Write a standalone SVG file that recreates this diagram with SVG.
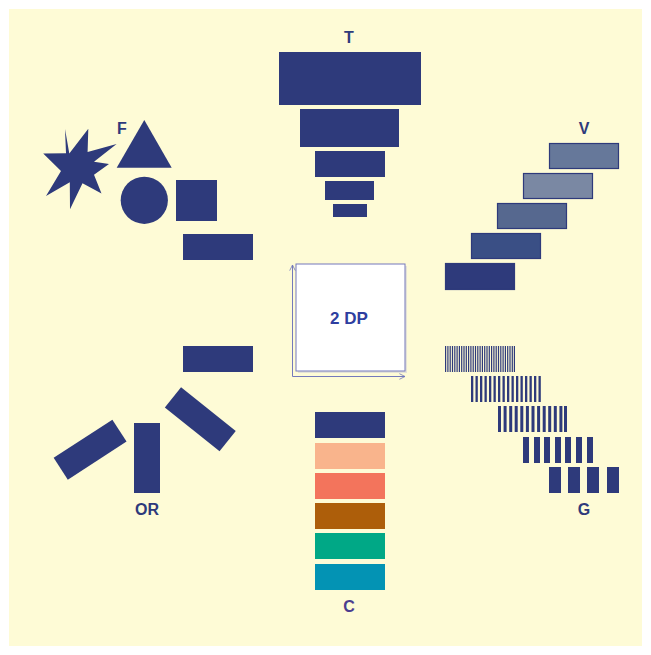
<svg xmlns="http://www.w3.org/2000/svg" width="651" height="655" viewBox="0 0 651 655">
<defs>
<style>
.n{fill:#2e3a7b}
.lbl{font-family:"Liberation Sans",Arial,sans-serif;font-weight:bold;font-size:16px;fill:#2e3a7b;text-anchor:middle}
.v{stroke:#2e3a7b;stroke-width:1.2}
.ax{stroke:#7479bb;stroke-width:1;fill:none}
</style>
<marker id="ah" viewBox="0 0 10 10" refX="9" refY="5" markerWidth="7" markerHeight="7" orient="auto" markerUnits="userSpaceOnUse">
<path d="M1,1 L9,5 L1,9" fill="none" stroke="#7479bb" stroke-width="1.2"/>
</marker>
</defs>
<rect x="0" y="0" width="651" height="655" fill="#ffffff"/>
<rect x="9" y="9" width="633" height="637" fill="#fefbd6"/>

<g id="center">
<rect x="298" y="266" width="109" height="107" fill="#e4e2d8"/>
<rect x="296" y="264" width="109" height="107" fill="#ffffff" stroke="#7479bb" stroke-width="1"/>
<g class="connectors" id="axes">
<line class="ax" x1="292.5" y1="376.5" x2="292.5" y2="265" marker-end="url(#ah)"/>
<line class="ax" x1="292.5" y1="376.5" x2="405" y2="376.5" marker-end="url(#ah)"/>
</g>
<text class="lbl" x="349" y="324" style="fill:#2e3ea0;font-size:17px">2 DP</text>
</g>

<g id="T">
<text class="lbl" x="349" y="43">T</text>
<rect class="n" x="279" y="52" width="142" height="53"/>
<rect class="n" x="300" y="109" width="99" height="38"/>
<rect class="n" x="315" y="151" width="70" height="26"/>
<rect class="n" x="325" y="181" width="49" height="19"/>
<rect class="n" x="333" y="204" width="34" height="13"/>
</g>

<g id="F">
<text class="lbl" x="122" y="134">F</text>
<polygon class="n" points="65,129 69.3,153.5 88.3,128.7 87.6,152.1 116.6,144 94,161.8 109,164 94,174.8 101.5,193.5 82.5,183.2 70,209.3 69.8,182.2 46,196 61,171 43.2,153.5 66,153.3"/>
<polygon class="n" points="144.3,120 171.7,167.7 116.7,167.7"/>
<circle class="n" cx="144.3" cy="200.3" r="23.6"/>
<rect class="n" x="176" y="180" width="41" height="41"/>
<rect class="n" x="183" y="234" width="70" height="26"/>
</g>

<g id="V">
<text class="lbl" x="584" y="134">V</text>
<rect class="v" x="549.5" y="143.5" width="69" height="25" fill="#66789a"/>
<rect class="v" x="523.5" y="173.5" width="69" height="25" fill="#7a88a3"/>
<rect class="v" x="497.5" y="203.5" width="69" height="25" fill="#56688f"/>
<rect class="v" x="471.5" y="233.5" width="69" height="25" fill="#3a4f85"/>
<rect class="v" x="445.5" y="263.5" width="69" height="26" fill="#2e3a7b"/>
</g>

<g id="OR">
<rect class="n" x="183" y="346" width="70" height="26"/>
<rect class="n" x="134" y="423" width="26" height="70"/>
<rect class="n" x="-35" y="-13" width="70" height="26" transform="translate(90.1,449.7) rotate(-33)"/>
<rect class="n" x="-35" y="-13" width="70" height="26" transform="translate(200.3,419.2) rotate(38.6)"/>
<text class="lbl" x="147" y="515">OR</text>
</g>

<g id="C">
<rect x="315" y="412" width="70" height="26" fill="#2e3a7b"/>
<rect x="315" y="443" width="70" height="26" fill="#f9b48c"/>
<rect x="315" y="473" width="70" height="26" fill="#f3745c"/>
<rect x="315" y="503" width="70" height="26" fill="#ad5e0a"/>
<rect x="315" y="533" width="70" height="26" fill="#00a886"/>
<rect x="315" y="564" width="70" height="26" fill="#0393b4"/>
<text class="lbl" x="349" y="612" style="fill:#4b3d8f">C</text>
</g>

<g id="G">
<g id="g1" class="n">
<rect x="445.0" y="346" width="1.2" height="26"/><rect x="447.3" y="346" width="1.2" height="26"/><rect x="449.6" y="346" width="1.2" height="26"/><rect x="451.9" y="346" width="1.2" height="26"/><rect x="454.2" y="346" width="1.2" height="26"/><rect x="456.5" y="346" width="1.2" height="26"/><rect x="458.8" y="346" width="1.2" height="26"/><rect x="461.1" y="346" width="1.2" height="26"/><rect x="463.4" y="346" width="1.2" height="26"/><rect x="465.7" y="346" width="1.2" height="26"/><rect x="468.0" y="346" width="1.2" height="26"/><rect x="470.3" y="346" width="1.2" height="26"/><rect x="472.6" y="346" width="1.2" height="26"/><rect x="474.9" y="346" width="1.2" height="26"/><rect x="477.2" y="346" width="1.2" height="26"/><rect x="479.5" y="346" width="1.2" height="26"/><rect x="481.8" y="346" width="1.2" height="26"/><rect x="484.1" y="346" width="1.2" height="26"/><rect x="486.4" y="346" width="1.2" height="26"/><rect x="488.7" y="346" width="1.2" height="26"/><rect x="491.0" y="346" width="1.2" height="26"/><rect x="493.3" y="346" width="1.2" height="26"/><rect x="495.6" y="346" width="1.2" height="26"/><rect x="497.9" y="346" width="1.2" height="26"/><rect x="500.2" y="346" width="1.2" height="26"/><rect x="502.5" y="346" width="1.2" height="26"/><rect x="504.8" y="346" width="1.2" height="26"/><rect x="507.1" y="346" width="1.2" height="26"/><rect x="509.4" y="346" width="1.2" height="26"/><rect x="511.7" y="346" width="1.2" height="26"/><rect x="513.8" y="346" width="1.2" height="26"/>
</g>
<g id="g2" class="n">
<rect x="471.0" y="376" width="2.3" height="26"/><rect x="475.5" y="376" width="2.3" height="26"/><rect x="480.0" y="376" width="2.3" height="26"/><rect x="484.5" y="376" width="2.3" height="26"/><rect x="489.0" y="376" width="2.3" height="26"/><rect x="493.5" y="376" width="2.3" height="26"/><rect x="498.0" y="376" width="2.3" height="26"/><rect x="502.5" y="376" width="2.3" height="26"/><rect x="507.0" y="376" width="2.3" height="26"/><rect x="511.5" y="376" width="2.3" height="26"/><rect x="516.0" y="376" width="2.3" height="26"/><rect x="520.5" y="376" width="2.3" height="26"/><rect x="525.0" y="376" width="2.3" height="26"/><rect x="529.5" y="376" width="2.3" height="26"/><rect x="534.0" y="376" width="2.3" height="26"/><rect x="538.5" y="376" width="2.3" height="26"/>
</g>
<g id="g3" class="n">
<rect x="498.0" y="406" width="3" height="26"/><rect x="503.6" y="406" width="3" height="26"/><rect x="509.2" y="406" width="3" height="26"/><rect x="514.7" y="406" width="3" height="26"/><rect x="520.3" y="406" width="3" height="26"/><rect x="525.9" y="406" width="3" height="26"/><rect x="531.5" y="406" width="3" height="26"/><rect x="537.1" y="406" width="3" height="26"/><rect x="542.7" y="406" width="3" height="26"/><rect x="548.2" y="406" width="3" height="26"/><rect x="553.8" y="406" width="3" height="26"/><rect x="559.4" y="406" width="3" height="26"/><rect x="564.0" y="406" width="3" height="26"/>
</g>
<g id="g4" class="n">
<rect x="523" y="437" width="6" height="26"/><rect x="534" y="437" width="6" height="26"/><rect x="544" y="437" width="6" height="26"/><rect x="555" y="437" width="6" height="26"/><rect x="565" y="437" width="6" height="26"/><rect x="576" y="437" width="6" height="26"/><rect x="587" y="437" width="6" height="26"/>
</g>
<g id="g5" class="n">
<rect x="549" y="467" width="12" height="26"/><rect x="568" y="467" width="12" height="26"/><rect x="587" y="467" width="12" height="26"/><rect x="607" y="467" width="12" height="26"/>
</g>
<text class="lbl" x="584" y="515">G</text>
</g>
</svg>
